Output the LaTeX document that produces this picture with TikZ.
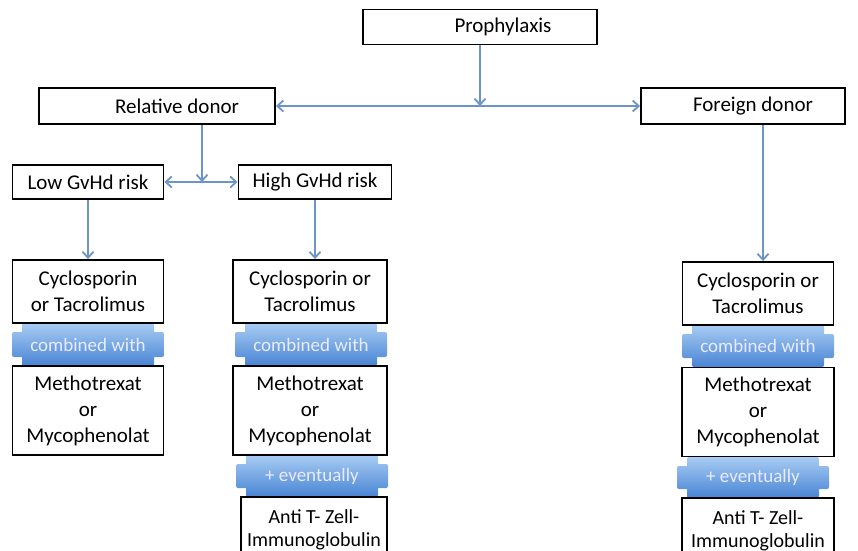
\documentclass[tikz,border=0pt]{standalone}
\usepackage{fontspec}
\setmainfont{Carlito}
\usetikzlibrary{arrows.meta,positioning}
\definecolor{linkblue}{RGB}{108,148,200}
\definecolor{bandtop}{RGB}{168,204,243}
\definecolor{bandbottom}{RGB}{72,132,212}

% blue connector band between two boxes: name, centre x, top y, bottom y, text
\newcommand{\joint}[5]{%
  \shade[top color=bandtop, bottom color=bandbottom, rounded corners=2pt]
    (#2-66,#3) rectangle (#2+66,#4)
    (#2-76,#3+9) rectangle (#2+76,#4-9);
  \node[bandtext] (#1) at (#2,{(#3+#4)/2}) {#5};
}

\begin{document}
\begin{tikzpicture}[x=1pt, y=-1pt,
    box/.style={rectangle, draw, line width=1.9pt, fill=white, inner sep=0pt, font=\fontsize{21}{26}\selectfont, align=center},
    smallbox/.style={box, font=\fontsize{20}{23}\selectfont},
    arrow/.style={-{Straight Barb[length=6pt,width=11pt]}, line width=1.8pt, draw=linkblue},
    twoway/.style={{Straight Barb[length=6pt,width=11pt]}-{Straight Barb[length=6pt,width=11pt]}, line width=1.8pt, draw=linkblue},
    bandtext/.style={font=\fontsize{19}{22}\selectfont, text=white!92!blue}
]
    \useasboundingbox (0,0) rectangle (858,550);
    \clip (0,0) rectangle (858,550);

    % Connector bands
    \joint{lowcomb}{88}{323}{366}{combined with}
    \joint{highcomb}{311}{323}{366}{combined with}
    \joint{highev}{312}{455}{497}{+ eventually}
    \joint{frgcomb}{758}{325}{367}{combined with}
    \joint{frgev}{753}{457}{498}{+ eventually}

    % Top levels
    \node[box, minimum width=234pt, minimum height=35pt] (pro) at (480,27) {\hspace*{46pt}Prophylaxis};
    \node[box, minimum width=236pt, minimum height=36pt] (rel) at (157,106) {\hspace*{40pt}Relative donor};
    \node[box, minimum width=204pt, minimum height=36pt] (frg) at (743,106) {\hspace*{20pt}Foreign donor};
    \node[box, minimum width=151pt, minimum height=34pt] (low) at (88,182) {Low GvHd risk};
    \node[box, minimum width=153pt, minimum height=34pt] (high) at (315,182) {High GvHd risk};

    % Low risk column
    \node[box, minimum width=151pt, minimum height=63pt] (lowcyc) at (88,291.5) {Cyclosporin\\or Tacrolimus};
    \node[box, minimum width=151pt, minimum height=89pt] (lowmeth) at (88,410.5) {Methotrexat\\or\\Mycophenolat};

    % High risk column
    \node[box, minimum width=154pt, minimum height=63pt] (highcyc) at (310,291.5) {Cyclosporin or\\Tacrolimus};
    \node[box, minimum width=154pt, minimum height=89pt] (highmeth) at (310,410.5) {Methotrexat\\or\\Mycophenolat};
    \node[smallbox, minimum width=146pt, minimum height=66pt] (highanti) at (314,530) {Anti T- Zell-\\Immunoglobulin};

    % Foreign donor column
    \node[box, minimum width=151pt, minimum height=63pt] (frgcyc) at (758,293.5) {Cyclosporin or\\Tacrolimus};
    \node[box, minimum width=152pt, minimum height=89pt] (frgmeth) at (758,412) {Methotrexat\\or\\Mycophenolat};
    \node[smallbox, minimum width=152pt, minimum height=66pt] (frganti) at (758,531) {Anti T- Zell-\\Immunoglobulin};

    % Connectors
    \coordinate (prosplit) at (480,106);
    \coordinate (relsplit) at (202,182);
    \draw[arrow] (pro) -- (prosplit);
    \draw[twoway] (rel.east) -- (frg.west);
    \draw[arrow] (rel.south -| relsplit) -- (relsplit);
    \draw[twoway] (low.east) -- (high.west);
    \draw[arrow] (low.south) -- (lowcyc.north);
    \draw[arrow] (high.south) -- (high.south |- highcyc.north);
    \draw[arrow] ([xshift=20pt]frg.south) -- ([xshift=20pt]frg.south |- frgcyc.north);
\end{tikzpicture}
\end{document}
